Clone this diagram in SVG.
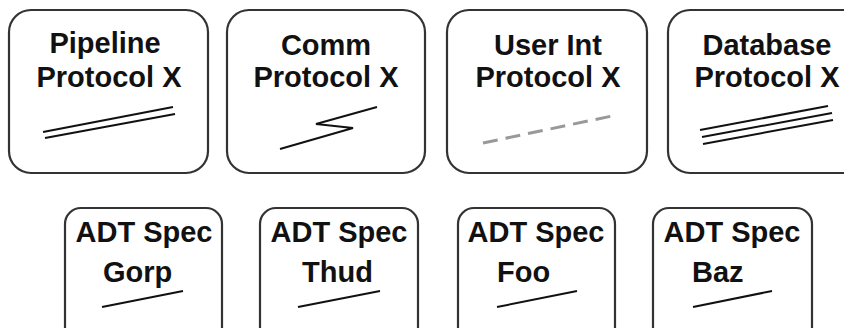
<svg xmlns="http://www.w3.org/2000/svg" width="844" height="328" viewBox="0 0 844 328">
<style>
.box{fill:#fff;stroke:#333;stroke-width:2.2}
.t{font-family:"Liberation Sans",Arial,sans-serif;font-weight:bold;font-size:29px;fill:#111;text-anchor:middle}
.ts{font-family:"Liberation Sans",Arial,sans-serif;font-weight:bold;font-size:29px;fill:#111}
.ln{fill:none;stroke:#111;stroke-width:2}
.dash{fill:none;stroke:#999;stroke-width:3;stroke-dasharray:15 8}
</style>
<rect width="844" height="328" fill="#fff"/>
<g id="pipeline">
<rect class="box" x="9" y="10" width="199" height="163" rx="22"/>
<text class="t" x="105" y="53">Pipeline</text>
<text class="t" x="109" y="87">Protocol X</text>
<line class="ln" x1="43" y1="132" x2="173" y2="107"/>
<line class="ln" x1="45" y1="138" x2="175" y2="114"/>
</g>
<g id="comm">
<rect class="box" x="227" y="10" width="198" height="163" rx="22"/>
<text class="t" x="326" y="55">Comm</text>
<text class="t" x="326" y="87">Protocol X</text>
<polyline class="ln" points="280,149 353,128 316,124 377,107"/>
</g>
<g id="userint">
<rect class="box" x="447" y="10" width="200" height="163" rx="22"/>
<text class="t" x="548" y="55">User Int</text>
<text class="t" x="548" y="87">Protocol X</text>
<line class="dash" x1="483" y1="143" x2="612" y2="116"/>
</g>
<g id="database">
<rect class="box" x="668" y="10" width="198" height="163" rx="22"/>
<text class="t" x="767" y="55">Database</text>
<text class="t" x="767" y="87">Protocol X</text>
<line class="ln" x1="700" y1="130" x2="828" y2="106"/>
<line class="ln" x1="702" y1="137" x2="832" y2="113"/>
<line class="ln" x1="703" y1="144" x2="833" y2="120"/>
</g>
<g id="gorp">
<rect class="box" x="65" y="208" width="157" height="140" rx="16"/>
<text class="t" x="144" y="242">ADT Spec</text>
<text class="ts" x="103" y="282">Gorp</text>
<line class="ln" x1="102" y1="307" x2="183" y2="291"/>
</g>
<g id="thud">
<rect class="box" x="260" y="208" width="158" height="140" rx="16"/>
<text class="t" x="339" y="242">ADT Spec</text>
<text class="ts" x="302" y="282">Thud</text>
<line class="ln" x1="298" y1="307" x2="380" y2="291"/>
</g>
<g id="foo">
<rect class="box" x="458" y="208" width="157" height="140" rx="16"/>
<text class="t" x="536" y="242">ADT Spec</text>
<text class="ts" x="497" y="282">Foo</text>
<line class="ln" x1="497" y1="307" x2="577" y2="291"/>
</g>
<g id="baz">
<rect class="box" x="653" y="208" width="159" height="140" rx="16"/>
<text class="t" x="732" y="242">ADT Spec</text>
<text class="ts" x="692" y="282">Baz</text>
<line class="ln" x1="693" y1="307" x2="772" y2="291"/>
</g>
<g id="connectors"></g>
</svg>
